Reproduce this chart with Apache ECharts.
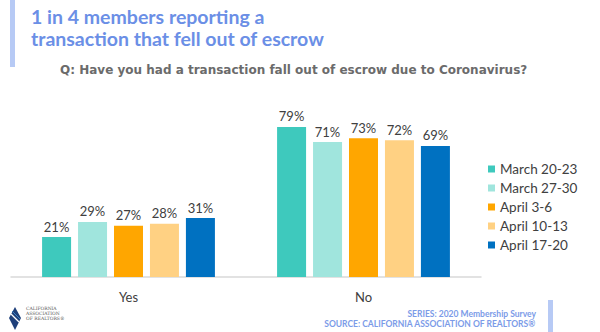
<!DOCTYPE html>
<html>
<head>
<meta charset="utf-8">
<script src="https://cdn.jsdelivr.net/npm/echarts@6/dist/echarts.min.js"></script>
<style>html,body{margin:0;padding:0;background:#fff;}#c{width:600px;height:332px;}</style>
</head>
<body>
<div id="c"></div>
<script>
const categories = ['Yes', 'No'];
const seriesNames = ['March 20-23', 'March 27-30', 'April 3-6', 'April 10-13', 'April 17-20'];
const march2023 = [21, 79];
const march2730 = [29, 71];
const april36 = [27, 73];
const april1013 = [28, 72];
const april1720 = [31, 69];
const seriesValues = [march2023, march2730, april36, april1013, april1720];
const colors = ['#3ec9bd', '#a0e5dd', '#ffa600', '#ffd183', '#0071c1'];
const titleLines = ['1 in 4 members reporting a', 'transaction that fell out of escrow'];
const subtitle = 'Q: Have you had a transaction fall out of escrow due to Coronavirus?';
const footer1 = 'SERIES: 2020 Membership Survey';
const footer2 = 'SOURCE: CALIFORNIA ASSOCIATION OF REALTORS®';

const chart = echarts.init(document.getElementById('c'), null, {renderer: 'svg'});
const FONT = 'Lato, "DejaVu Sans", sans-serif';

chart.setOption({
  animation: false,
  color: colors,
  textStyle: {fontFamily: FONT},
  grid: {left: 11, width: 470, top: 87, bottom: 55},
  xAxis: {
    type: 'category',
    data: categories,
    axisLine: {lineStyle: {color: '#d9d9d9', width: 1.5}},
    axisTick: {show: false},
    axisLabel: {color: '#404040', fontSize: 13, margin: 13, fontFamily: FONT}
  },
  yAxis: {type: 'value', min: 0, max: 100, show: false, splitLine: {show: false}},
  legend: {
    orient: 'vertical', left: 488, top: 162, padding: 0,
    icon: 'rect', itemWidth: 7, itemHeight: 7, itemGap: 5,
    textStyle: {color: '#404040', fontSize: 13.5, lineHeight: 12, fontFamily: FONT},
    data: seriesNames
  },
  series: seriesNames.map((n, i) => ({
    name: n, type: 'bar', data: seriesValues[i],
    barWidth: 29, barGap: '24%',
    label: {show: true, position: 'top', distance: 4, formatter: '{c}%', color: '#404040', fontSize: 13, fontFamily: FONT}
  })),
  graphic: [
    {type: 'rect', shape: {x: 10, y: 0, width: 5, height: 67}, style: {fill: '#b7caf5'}},
    {type: 'text', left: 31, top: 5, style: {text: titleLines.join('\n'), font: 'bold 19.5px ' + FONT, fill: '#6b8fe6', lineHeight: 22}},
    {type: 'text', left: 60, top: 64, style: {text: subtitle, font: 'bold 12px "DejaVu Sans", sans-serif', fill: '#6b6b6b'}},
    {type: 'text', right: 64, top: 309, style: {text: footer1, font: 'bold 8.5px ' + FONT, fill: '#7b9be8', align: 'right'}},
    {type: 'text', right: 64, top: 319, style: {text: footer2, font: 'bold 8.5px ' + FONT, fill: '#7b9be8', align: 'right'}},
    {type: 'rect', shape: {x: 548, y: 300, width: 5, height: 32}, style: {fill: '#b7caf5'}},
    {type: 'polygon', shape: {points: [[15, 307], [21, 318], [15, 330], [9, 318]]}, style: {fill: '#1d3f7a'}},
    {type: 'polyline', shape: {points: [[11, 314], [19, 322]]}, style: {stroke: '#ffffff', lineWidth: 1.2}},
    {type: 'polyline', shape: {points: [[12, 311], [20, 319]]}, style: {stroke: '#3b82c4', lineWidth: 1}},
    {type: 'text', left: 26, top: 306, style: {text: 'CALIFORNIA\nASSOCIATION\nOF REALTORS®', font: '4.5px "DejaVu Serif", serif', fill: '#555', lineHeight: 5}}
  ]
});
</script>
</body>
</html>
